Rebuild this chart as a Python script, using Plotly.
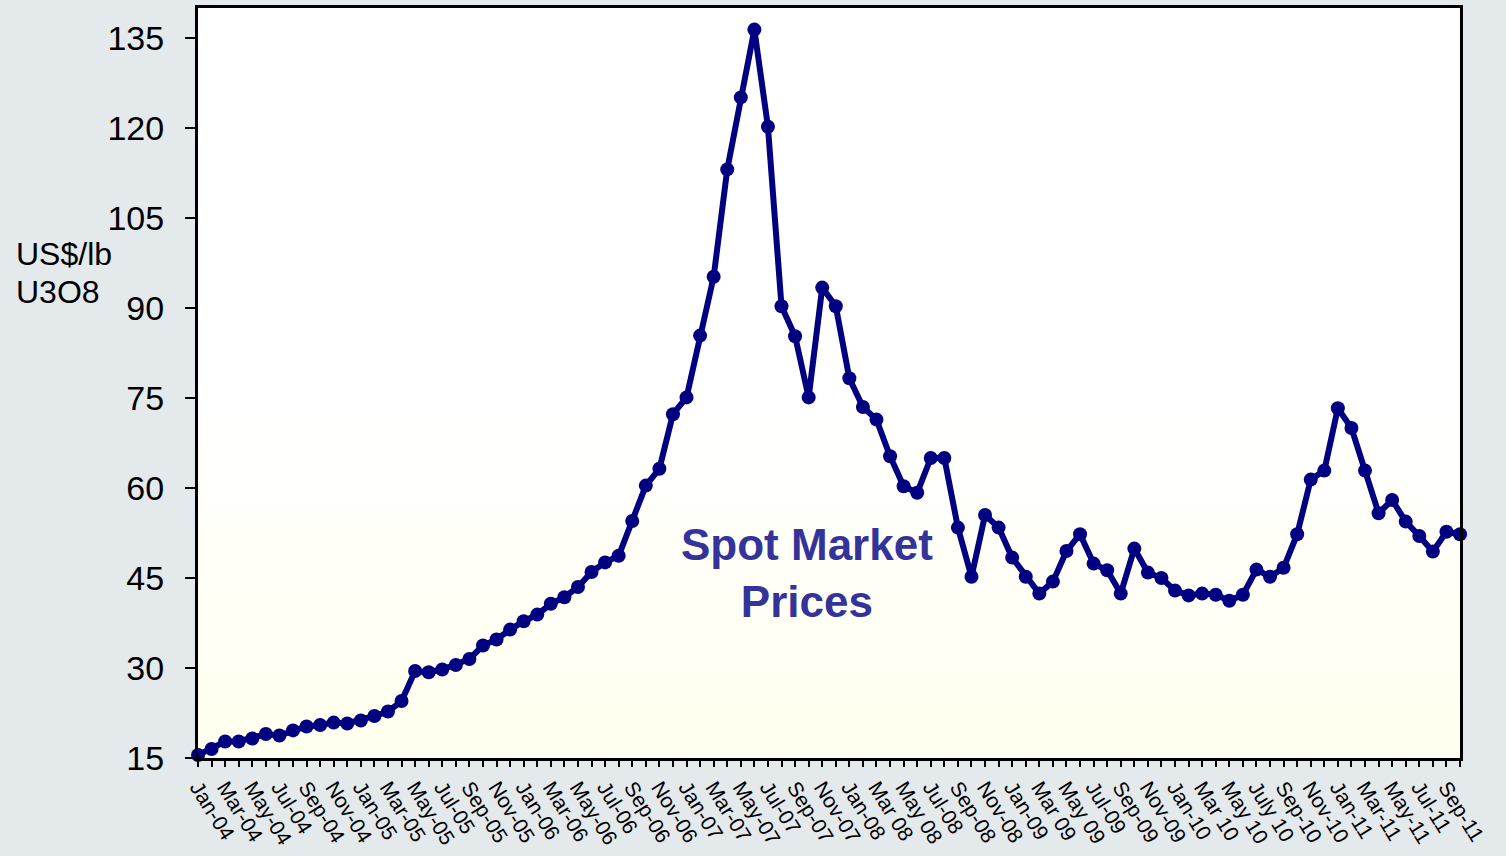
import plotly.graph_objects as go

# Monthly spot price, Jan-04 .. Oct-11 (US$/lb U3O8)
prices = [15.5, 16.5, 17.75, 17.75, 18.25, 19.0, 18.75, 19.6, 20.25, 20.5,
          20.9, 20.75, 21.25, 22.0, 22.75, 24.5, 29.5, 29.3, 29.75, 30.5,
          31.5, 33.75, 34.75, 36.4, 37.8, 38.9, 40.7, 41.8, 43.5, 46.0,
          47.6, 48.7, 54.5, 60.4, 63.2, 72.3, 75.1, 85.4, 95.2, 113.1,
          125.1, 136.4, 120.2, 90.3, 85.3, 75.1, 93.4, 90.3, 78.3, 73.5,
          71.4, 65.3, 60.3, 59.2, 65.0, 65.0, 53.4, 45.2, 55.5, 53.4,
          48.4, 45.2, 42.4, 44.4, 49.5, 52.3, 47.4, 46.3, 42.4, 49.9,
          45.9, 45.0, 42.9, 42.1, 42.4, 42.2, 41.2, 42.2, 46.4, 45.2,
          46.7, 52.3, 61.4, 62.9, 73.3, 70.0, 62.9, 55.8, 58.0, 54.4,
          52.0, 49.4, 52.7, 52.3]
months = list(range(len(prices)))

tick_labels = ["Jan-04", "Mar-04", "May-04", "Jul-04", "Sep-04", "Nov-04",
               "Jan-05", "Mar-05", "May-05", "Jul-05", "Sep-05", "Nov-05",
               "Jan-06", "Mar-06", "May-06", "Jul-06", "Sep-06", "Nov-06",
               "Jan-07", "Mar-07", "May-07", "Jul-07", "Sep-07", "Nov-07",
               "Jan-08", "Mar 08", "May 08", "Jul-08", "Sep-08", "Nov-08",
               "Jan-09", "Mar 09", "May 09", "Jul-09", "Sep-09", "Nov-09",
               "Jan-10", "Mar 10", "May 10", "July 10", "Sep-10", "Nov-10",
               "Jan-11", "Mar-11", "May-11", "Jul-11", "Sep-11"]
y_ticks = [15, 30, 45, 60, 75, 90, 105, 120, 135]

ticktext = []
for m in months:
    ticktext.append(tick_labels[m // 2] if (m % 2 == 0 and m // 2 < len(tick_labels)) else "")

NAVY = "#000080"
FONT = "Liberation Sans, Arial, sans-serif"

fig = go.Figure()
fig.add_trace(go.Scatter(
    x=months, y=prices, mode="lines+markers",
    line=dict(color=NAVY, width=6),
    marker=dict(color=NAVY, size=14),
    cliponaxis=False, showlegend=False, hoverinfo="x+y"))

# subtle cream gradient near bottom of plot area
bands = 12
for k in range(bands):
    frac = k / bands
    g = int(255 - 16 * (1 - frac))
    fig.add_shape(type="rect", xref="x domain", yref="y domain",
                  x0=0, x1=1, y0=0.45 * frac, y1=0.45 * (frac + 1 / bands),
                  fillcolor=f"rgba(255,255,{g},1)", line=dict(width=0),
                  layer="below")

fig.add_annotation(x=-0.146, y=0.672, xref="paper", yref="paper",
                   text="US$/lb", showarrow=False, xanchor="left",
                   yanchor="middle", align="left",
                   font=dict(family=FONT, size=32, color="black"))
fig.add_annotation(x=-0.146, y=0.621, xref="paper", yref="paper",
                   text="U3O8", showarrow=False, xanchor="left",
                   yanchor="middle", align="left",
                   font=dict(family=FONT, size=32, color="black"))
fig.add_annotation(x=44.9, y=45.9, xref="x", yref="y",
                   text="<b>Spot Market</b><br><b>Prices</b>", showarrow=False,
                   xanchor="center", yanchor="middle", align="center",
                   font=dict(family=FONT, size=44, color="#333399"))

fig.update_layout(
    width=1506, height=856,
    margin=dict(l=198, r=46, t=8, b=98, autoexpand=False),
    paper_bgcolor="#E4E9EC", plot_bgcolor="white",
    font=dict(family=FONT, color="black"),
    xaxis=dict(range=[0, 93], tickmode="array", tickvals=months,
               ticktext=ticktext, tickangle=58, ticks="outside",
               ticklen=6, tickwidth=2, tickcolor="black",
               showline=True, linecolor="black", linewidth=3, mirror=True,
               showgrid=False, zeroline=False, automargin=False,
               ticklabelstandoff=0,
               tickfont=dict(family=FONT, size=21, color="black")),
    yaxis=dict(range=[15, 140], tickmode="array", tickvals=y_ticks,
               ticks="outside", ticklen=10, tickwidth=2, tickcolor="black",
               showline=True, linecolor="black", linewidth=3, mirror=True,
               showgrid=False, zeroline=False, ticklabelstandoff=14,
               automargin=False,
               tickfont=dict(family=FONT, size=34, color="black")),
)

fig.write_html("out.html", config={"displayModeBar": False},
               post_script="document.body.style.margin='0';"
                           "document.body.style.background='#E4E9EC';")
